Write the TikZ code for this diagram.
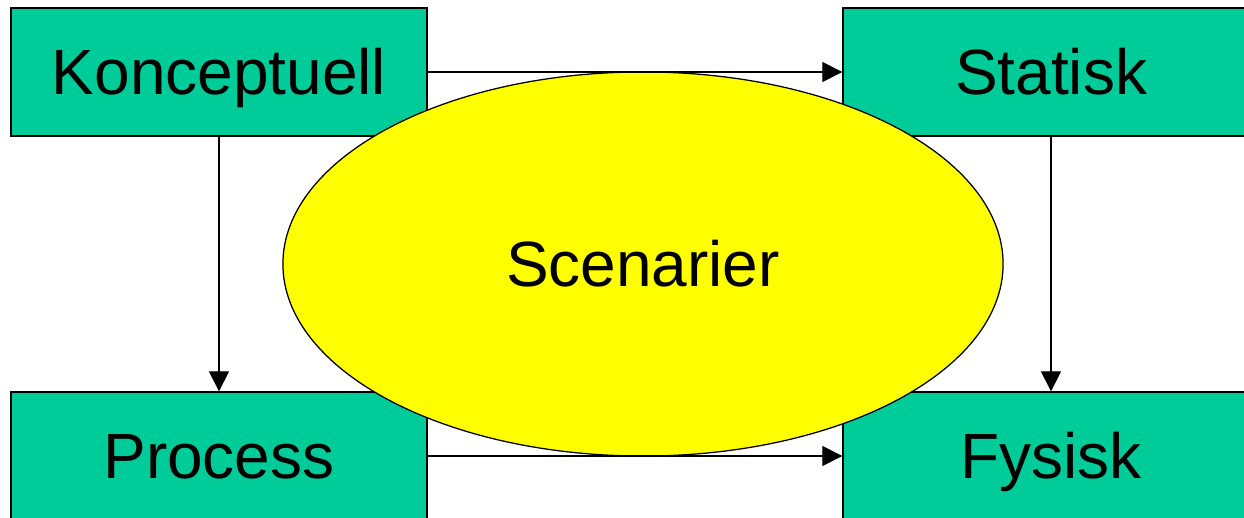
\documentclass[tikz,border=0pt]{standalone}
\usepackage{fontspec}
\setmainfont{Liberation Sans}
\usetikzlibrary{shapes.geometric,arrows.meta}

\definecolor{boxgreen}{RGB}{0,204,153}
\definecolor{scenyellow}{RGB}{255,255,0}

\begin{document}
\begin{tikzpicture}[x=0.025cm,y=-0.025cm,line width=0.9pt,
        every node/.style={font=\fontsize{45.5}{54}\selectfont,text height=1.1cm,text depth=0pt},
        modelbox/.style={draw,fill=boxgreen,minimum width=10.4cm,minimum height=3.2cm,inner sep=0pt},
        flow/.style={-{Triangle[length=0.5cm,width=0.5cm]}}]
        \useasboundingbox (0,0) rectangle (1244,518);
        \clip (0,0) rectangle (1244,518);
        % the four model boxes
        \node[modelbox] (konc) at (219,72) {Konceptuell};
        \node[modelbox] (stat) at (1051,72) {Statisk};
        \node[modelbox] (proc) at (219,456) {Process};
        \node[modelbox] (fys) at (1051,456) {Fysisk};
        % scenarios in the middle
        \node[draw,ellipse,fill=scenyellow,minimum width=18cm,minimum height=9.6cm,inner sep=0pt] (scen) at (643,264) {Scenarier};
        \draw[flow] (konc.east) -- (stat.west);
        \draw[flow] (proc.east) -- (fys.west);
        \draw[flow] (konc.south) -- (proc.north);
        \draw[flow] (stat.south) -- (fys.north);
    \end{tikzpicture}
\end{document}
